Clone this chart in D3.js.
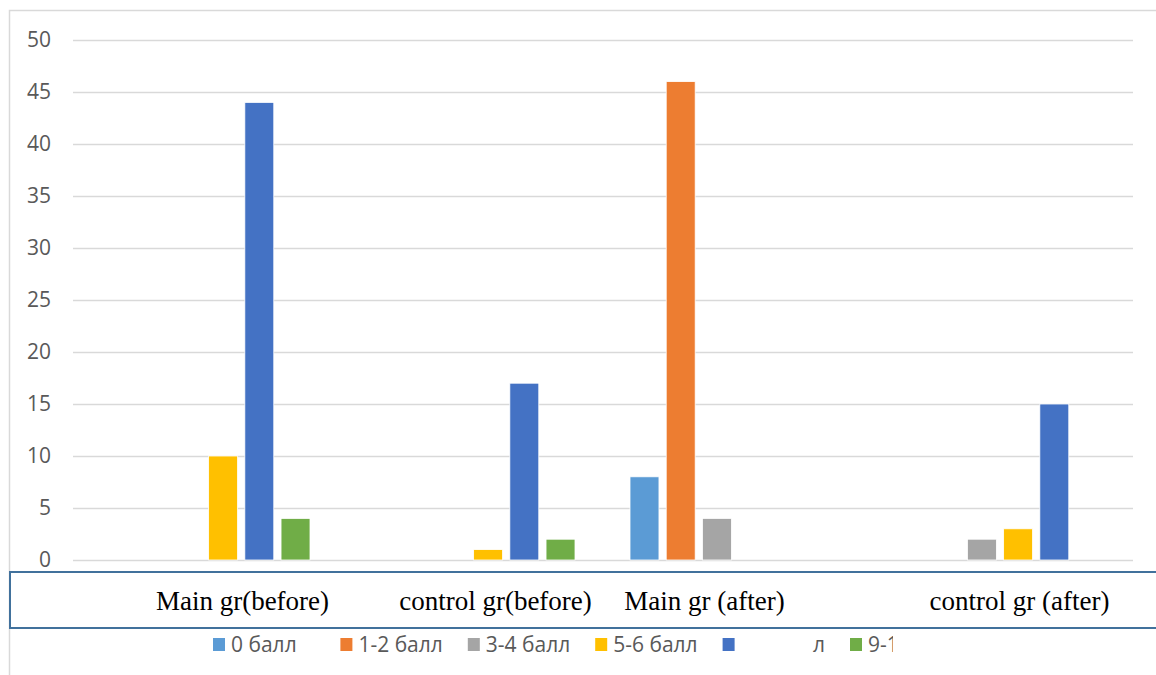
<!DOCTYPE html>
<html>
<head>
<meta charset="utf-8">
<script src="https://cdn.jsdelivr.net/npm/d3@7"></script>
<style>
  body { margin: 0; background: #fff; }
  svg { display: block; }
</style>
</head>
<body>
<svg id="chart" width="1156" height="675"></svg>
<script>
const categories = ['Main gr(before)', 'control gr(before)', 'Main gr (after)', 'control gr (after)'];
const seriesNames = ['0 балл', '1-2 балл', '3-4 балл', '5-6 балл', '7-8 балл', '9-10 балл'];
const seriesColors = ['#5b9bd5', '#ed7d31', '#a5a5a5', '#ffc000', '#4472c4', '#70ad47'];
const s0 = [0, 0, 8, 0];
const s12 = [0, 0, 46, 0];
const s34 = [0, 0, 4, 2];
const s56 = [10, 1, 0, 3];
const s78 = [44, 17, 0, 15];
const s910 = [4, 2, 0, 0];
const yTicks = [0, 5, 10, 15, 20, 25, 30, 35, 40, 45, 50];

const seriesValues = [s0, s12, s34, s56, s78, s910];

const svg = d3.select('#chart');
const plot = {left: 73, right: 1133, top: 40, bottom: 560};

// outer chart area frame (top + left edges visible)
svg.append('path')
    .attr('d', 'M9.5,675 V10.5 H1156')
    .attr('fill', 'none')
    .attr('stroke', '#d9d9d9')
    .attr('stroke-width', 1.5);

const x0 = d3.scaleBand()
    .domain(categories)
    .range([plot.left, plot.right]);

const x1 = d3.scaleBand()
    .domain(seriesNames)
    .range([0, 210])
    .paddingInner(0.2);

const y = d3.scaleLinear()
    .domain([0, 50])
    .range([plot.bottom, plot.top]);

// gridlines + tick labels
const yAxis = svg.append('g')
    .attr('transform', `translate(${plot.left},0)`)
    .call(d3.axisLeft(y).tickValues(yTicks).tickSize(-(plot.right - plot.left)).tickPadding(22));

yAxis.select('.domain').remove();
yAxis.selectAll('.tick line')
    .attr('stroke', '#d9d9d9')
    .attr('stroke-width', 1.5);
yAxis.selectAll('.tick text')
    .attr('fill', '#595959')
    .attr('font-family', '"Open Sans", sans-serif')
    .attr('font-size', 21);

// bars
const groups = svg.append('g')
    .selectAll('g')
    .data(categories)
    .join('g')
        .attr('transform', d => `translate(${x0(d) + (x0.bandwidth() - 203) / 2 - 4},0)`);

groups.selectAll('rect')
    .data((d, ci) => seriesNames.map((s, si) => ({s, v: seriesValues[si][ci], c: seriesColors[si]})))
    .join('rect')
        .attr('x', d => x1(d.s))
        .attr('y', d => y(d.v))
        .attr('width', x1.bandwidth())
        .attr('height', d => y(0) - y(d.v))
        .attr('fill', d => d.c)
        .attr('stroke', '#fff')
        .attr('stroke-width', 0.8);

// category label box
svg.append('rect')
    .attr('x', 10)
    .attr('y', 572)
    .attr('width', 1160)
    .attr('height', 56)
    .attr('fill', '#fff')
    .attr('stroke', '#41719c')
    .attr('stroke-width', 2);

const labelShift = [37, 25, -31, 19];
svg.append('g')
    .selectAll('text')
    .data(categories)
    .join('text')
        .attr('x', (d, i) => x0(d) + x0.bandwidth() / 2 + labelShift[i])
        .attr('y', 610)
        .attr('text-anchor', 'middle')
        .attr('fill', '#000')
        .attr('font-family', '"Liberation Serif", "Times New Roman", serif')
        .attr('font-size', 27)
        .text(d => d);

// legend
const legendX = d3.scalePoint()
    .domain(seriesNames)
    .range([213, 850]);

const legend = svg.append('g')
    .selectAll('g')
    .data(seriesNames)
    .join('g')
        .attr('transform', d => `translate(${legendX(d)},638)`);

legend.append('rect')
    .attr('width', 12)
    .attr('height', 13)
    .attr('fill', (d, i) => seriesColors[i]);

legend.append('text')
    .attr('x', 18)
    .attr('y', 14)
    .attr('fill', '#595959')
    .attr('font-family', '"Open Sans", sans-serif')
    .attr('font-size', 21)
    .text(d => d);

// white patches that cover part of the legend in the original
svg.append('rect')
    .attr('x', 737).attr('y', 630).attr('width', 75).attr('height', 30)
    .attr('fill', '#fff');
svg.append('rect')
    .attr('x', 893).attr('y', 630).attr('width', 263).attr('height', 30)
    .attr('fill', '#fff');
</script>
</body>
</html>
